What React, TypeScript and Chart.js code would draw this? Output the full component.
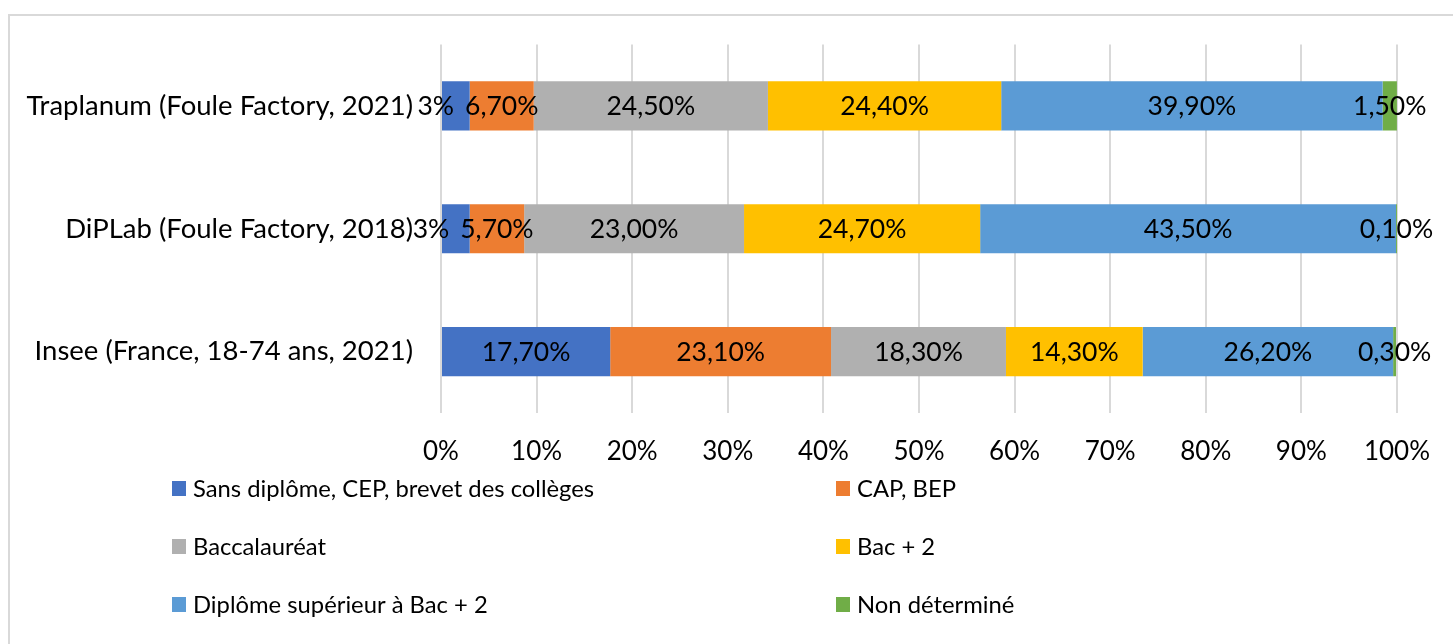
import React, { useEffect, useRef } from "react";
import { Chart, registerables } from "chart.js";

Chart.register(...registerables);

// ---------- DATA ----------
const categories = [
  "Traplanum (Foule Factory, 2021)",
  "DiPLab (Foule Factory, 2018)",
  "Insee (France, 18-74 ans, 2021)",
];

const seriesNames = [
  "Sans diplôme, CEP, brevet des collèges",
  "CAP, BEP",
  "Baccalauréat",
  "Bac + 2",
  "Diplôme supérieur à Bac + 2",
  "Non déterminé",
];

const sansDiplome = [3, 3, 17.7];
const capBep = [6.7, 5.7, 23.1];
const baccalaureat = [24.5, 23.0, 18.3];
const bacPlus2 = [24.4, 24.7, 14.3];
const superieur = [39.9, 43.5, 26.2];
const nonDetermine = [1.5, 0.1, 0.3];

const sansDiplomeLabels = ["3%", "3%", "17,70%"];
const capBepLabels = ["6,70%", "5,70%", "23,10%"];
const baccalaureatLabels = ["24,50%", "23,00%", "18,30%"];
const bacPlus2Labels = ["24,40%", "24,70%", "14,30%"];
const superieurLabels = ["39,90%", "43,50%", "26,20%"];
const nonDetermineLabels = ["1,50%", "0,10%", "0,30%"];

const xTickValues = [0, 10, 20, 30, 40, 50, 60, 70, 80, 90, 100];

// ---------- STYLE ----------
const COLORS = ["#4472C4", "#ED7D31", "#B0B0B0", "#FFC000", "#5B9BD5", "#70AD47"];
const FONT_FAMILY = "Lato, 'Open Sans', sans-serif";
const CAT_FONT_SIZE = 27.5;
const TICK_FONT_SIZE = 26;
const LABEL_FONT_SIZE = 26.5;
const LEGEND_FONT_SIZE = 23.8;
const TEXT_COLOR = "#000000";

const seriesValues = [sansDiplome, capBep, baccalaureat, bacPlus2, superieur, nonDetermine];
const seriesLabels = [
  sansDiplomeLabels,
  capBepLabels,
  baccalaureatLabels,
  bacPlus2Labels,
  superieurLabels,
  nonDetermineLabels,
];

const W = 1453;
const H = 644;

const borderPlugin = {
  id: "outerBorder",
  beforeDraw(chart: any) {
    const ctx = chart.ctx;
    ctx.save();
    ctx.fillStyle = "#ffffff";
    ctx.fillRect(0, 0, chart.width, chart.height);
    ctx.strokeStyle = "#D9D9D9";
    ctx.lineWidth = 2;
    ctx.strokeRect(9, 15, chart.width + 20, chart.height + 20);
    ctx.restore();
  },
};

const dataLabelPlugin = {
  id: "segmentLabels",
  afterDatasetsDraw(chart: any) {
    const ctx = chart.ctx;
    ctx.save();
    ctx.font = `${LABEL_FONT_SIZE}px ${FONT_FAMILY}`;
    ctx.fillStyle = TEXT_COLOR;
    ctx.textBaseline = "middle";
    ctx.textAlign = "left";
    const nCat = categories.length;
    const nSer = seriesValues.length;
    for (let c = 0; c < nCat; c++) {
      const items: { text: string; left: number; w: number; y: number }[] = [];
      for (let s = 0; s < nSer; s++) {
        const el = chart.getDatasetMeta(s).data[c];
        if (!el) continue;
        const text = seriesLabels[s][c];
        const w = ctx.measureText(text).width;
        const cx = (el.x + el.base) / 2;
        items.push({ text, left: cx - w / 2, w, y: el.y });
      }
      // avoid overlaps: push labels leftwards if they collide with the next one
      for (let i = items.length - 2; i >= 0; i--) {
        const maxRight = items[i + 1].left - 11;
        if (items[i].left + items[i].w > maxRight) {
          items[i].left = maxRight - items[i].w;
        }
      }
      for (const it of items) {
        ctx.fillText(it.text, it.left, it.y + 1);
      }
    }
    ctx.restore();
  },
};

const legendPlugin = {
  id: "gridLegend",
  afterDraw(chart: any) {
    const ctx = chart.ctx;
    ctx.save();
    ctx.font = `${LEGEND_FONT_SIZE}px ${FONT_FAMILY}`;
    ctx.textBaseline = "middle";
    ctx.textAlign = "left";
    const colX = [172, 836];
    const rowY = [488, 546, 604];
    seriesNames.forEach((name, i) => {
      const col = i % 2;
      const row = Math.floor(i / 2);
      const x = colX[col];
      const y = rowY[row];
      ctx.fillStyle = COLORS[i];
      ctx.fillRect(x, y - 7, 14, 15);
      ctx.fillStyle = TEXT_COLOR;
      ctx.fillText(name, x + 21, y + 1);
    });
    ctx.restore();
  },
};

export default function App() {
  const canvasRef = useRef<HTMLCanvasElement | null>(null);

  useEffect(() => {
    if (!canvasRef.current) return;
    const chart = new Chart(canvasRef.current, {
      type: "bar",
      data: {
        labels: categories,
        datasets: seriesNames.map((name, i) => ({
          label: name,
          data: seriesValues[i],
          backgroundColor: COLORS[i],
          borderWidth: 0,
          categoryPercentage: 0.8,
          barPercentage: 0.5,
        })),
      },
      options: {
        indexAxis: "y",
        animation: false,
        responsive: false,
        maintainAspectRatio: false,
        layout: { padding: { left: 0, top: 43, right: 49, bottom: 171 } },
        plugins: {
          legend: { display: false },
          tooltip: { enabled: false },
        },
        scales: {
          x: {
            stacked: true,
            min: 0,
            max: 100,
            afterBuildTicks: (scale: any) => {
              scale.ticks = xTickValues.map((v) => ({ value: v }));
            },
            afterFit: (scale: any) => {
              scale.height = 60;
            },
            ticks: {
              font: { family: FONT_FAMILY, size: TICK_FONT_SIZE },
              color: TEXT_COLOR,
              padding: 23,
              maxRotation: 0,
              autoSkip: false,
              callback: (v: any) => `${v}%`,
            },
            grid: { color: "#D9D9D9", lineWidth: 2, drawTicks: false },
            border: { display: false },
          },
          y: {
            stacked: true,
            afterFit: (scale: any) => {
              scale.width = 441;
            },
            ticks: { font: { family: FONT_FAMILY, size: CAT_FONT_SIZE }, color: TEXT_COLOR, padding: 28 },
            grid: { display: false, drawTicks: false },
            border: { display: false },
          },
        },
      },
      plugins: [borderPlugin, dataLabelPlugin, legendPlugin],
    } as any);
    return () => chart.destroy();
  }, []);

  return (
    <div style={{ position: "fixed", left: 0, top: 0, width: W, height: H, background: "#fff" }}>
      <canvas ref={canvasRef} width={W} height={H} style={{ width: W, height: H, display: "block" }} />
    </div>
  );
}
